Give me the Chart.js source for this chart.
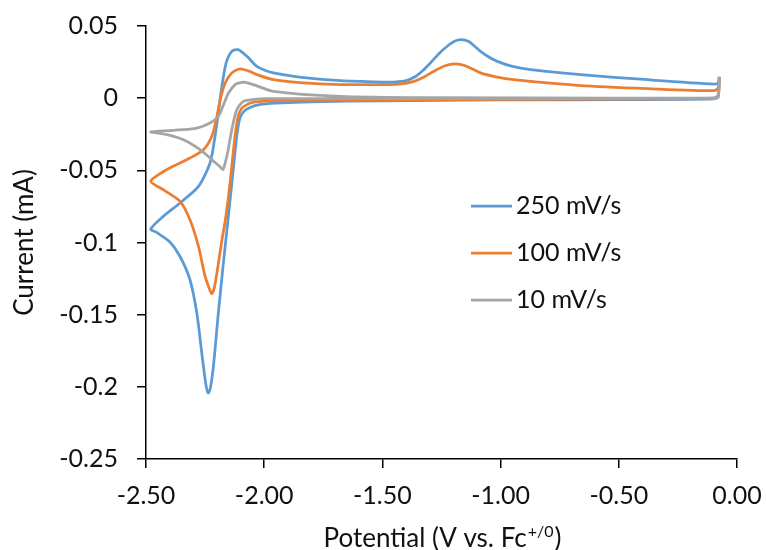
<!DOCTYPE html>
<html>
<head>
<meta charset="utf-8">
<script src="https://cdn.jsdelivr.net/npm/chart.js@4.4.1/dist/chart.umd.min.js"></script>
<style>
  body { margin: 0; background: #fff; }
  #wrap { width: 766px; height: 550px; }
</style>
</head>
<body>
<div id="wrap"><canvas id="cv" width="766" height="550"></canvas></div>
<script>
// potential (V vs Fc) and current (mA), in scan order: start -> -2.5 V -> back
const potential250 = [-0.075, -0.08, -0.1, -0.5, -1.0, -1.5, -1.8, -1.95, -2.02, -2.06, -2.085, -2.103, -2.116, -2.135, -2.155, -2.175, -2.194, -2.215, -2.228, -2.237, -2.247, -2.264, -2.285, -2.314, -2.356, -2.4, -2.455, -2.48,
    -2.427, -2.356, -2.278, -2.229, -2.208, -2.194, -2.179, -2.161, -2.137, -2.11, -2.073, -2.05, -2.031, -2.0, -1.961, -1.9, -1.819, -1.678, -1.508, -1.45, -1.4, -1.36, -1.33, -1.297, -1.26, -1.226, -1.195, -1.165, -1.135, -1.11, -1.085, -1.05, -1.014, -0.95, -0.873, -0.661, -0.378, -0.097, -0.08, -0.075];
const current250 = [0.0145, 0.001, -0.0005, -0.001, -0.0012, -0.0018, -0.0025, -0.0035, -0.0045, -0.0065, -0.009, -0.014, -0.0265, -0.056, -0.087, -0.118, -0.149, -0.186, -0.201, -0.2043, -0.198, -0.1766, -0.1489, -0.1258, -0.1097, -0.0995, -0.093, -0.0907,
    -0.0819, -0.0726, -0.0611, -0.0449, -0.0265, -0.0103, 0.0082, 0.0244, 0.0324, 0.0336, 0.029, 0.025, 0.022, 0.0195, 0.0175, 0.0158, 0.014, 0.0121, 0.0112, 0.0112, 0.0121, 0.015, 0.019, 0.0244, 0.031, 0.036, 0.0395, 0.0405, 0.0392, 0.036, 0.0324, 0.0285, 0.0255, 0.022, 0.0198, 0.0163, 0.0128, 0.0098, 0.0105, 0.0145];

const potential100 = [-0.075, -0.08, -0.1, -1.0, -1.9, -2.0, -2.05, -2.073, -2.095, -2.109, -2.12, -2.13, -2.14, -2.151, -2.165, -2.179, -2.2, -2.212, -2.222, -2.232, -2.25, -2.278, -2.314, -2.356, -2.427, -2.48,
    -2.412, -2.314, -2.257, -2.222, -2.203, -2.186, -2.165, -2.137, -2.11, -2.095, -2.06, -2.031, -1.961, -1.85, -1.678, -1.508, -1.43, -1.367, -1.32, -1.283, -1.235, -1.191, -1.15, -1.085, -1.02, -0.944, -0.661, -0.378, -0.097, -0.08, -0.075];
const current100 = [0.0145, 0.001, -0.0003, -0.0008, -0.0015, -0.002, -0.003, -0.0045, -0.007, -0.012, -0.022, -0.036, -0.052, -0.068, -0.085, -0.0985, -0.1211, -0.132, -0.1355, -0.132, -0.1235, -0.1027, -0.0842, -0.0715, -0.0634, -0.0576,
    -0.0495, -0.0415, -0.0357, -0.0265, -0.0149, -0.001, 0.0105, 0.0175, 0.02, 0.0202, 0.0185, 0.0163, 0.0128, 0.0108, 0.0094, 0.0094, 0.0097, 0.0116, 0.015, 0.0186, 0.0225, 0.0237, 0.0225, 0.0175, 0.0148, 0.0128, 0.0087, 0.0066, 0.0052, 0.007, 0.0145];

const potential10 = [-0.075, -0.08, -0.1, -1.0, -2.0, -2.031, -2.088, -2.116, -2.137, -2.155, -2.167, -2.175, -2.19, -2.222, -2.271, -2.342, -2.412, -2.48,
    -2.384, -2.285, -2.229, -2.194, -2.172, -2.151, -2.123, -2.1, -2.08, -2.046, -1.961, -1.678, -1.3, -0.5, -0.1, -0.08, -0.075];
const current10 = [0.015, 0.0005, -0.0002, -0.0003, -0.0004, -0.0006, -0.0022, -0.008, -0.0218, -0.038, -0.046, -0.0495, -0.047, -0.0426, -0.0357, -0.0288, -0.0253, -0.0234,
    -0.0223, -0.0207, -0.0172, -0.0126, -0.0045, 0.0036, 0.0094, 0.0108, 0.011, 0.0094, 0.0047, 0.0012, 0.0003, 0.0001, 0.0002, 0.002, 0.015];

const seriesNames = ['250 mV/s', '100 mV/s', '10 mV/s'];
const seriesColors = ['#5B9BD5', '#ED7D31', '#A5A5A5'];
const xTickValues = [-2.5, -2.0, -1.5, -1.0, -0.5, 0];
const yTickValues = [-0.25, -0.2, -0.15, -0.1, -0.05, 0, 0.05];

const textColor = '#111';
const fontName = 'Lato';

function points(xs, ys) {
    return xs.map((x, i) => ({x: x, y: ys[i]}));
}

function series(i, xs, ys) {
    return {
        label: seriesNames[i],
        data: points(xs, ys),
        borderColor: seriesColors[i],
        backgroundColor: seriesColors[i],
        borderWidth: 2.75,
        pointRadius: 0,
        showLine: true,
        tension: 0.25,
        order: 3 - i
    };
}

// axis titles and legend drawn by hand (superscript + legend inside the plot)
const overlay = {
    id: 'overlay',
    afterDraw(chart) {
        const ctx = chart.ctx;
        const area = chart.chartArea;
        ctx.save();
        ctx.fillStyle = textColor;
        ctx.font = '26px ' + fontName;
        ctx.textAlign = 'center';
        ctx.textBaseline = 'middle';
        ctx.translate(25, (area.top + area.bottom) / 2);
        ctx.rotate(-Math.PI / 2);
        ctx.fillText('Current (mA)', 0, 0);
        ctx.restore();

        ctx.save();
        ctx.fillStyle = textColor;
        ctx.textBaseline = 'alphabetic';
        ctx.textAlign = 'left';
        const main = 'Potential (V vs. Fc', sup = '+/0', tail = ')';
        ctx.font = '26px ' + fontName;
        const w1 = ctx.measureText(main).width, w3 = ctx.measureText(tail).width;
        ctx.font = '16px ' + fontName;
        const w2 = ctx.measureText(sup).width;
        let x = (area.left + area.right) / 2 - (w1 + w2 + w3) / 2;
        const base = 547;
        ctx.font = '26px ' + fontName;
        ctx.fillText(main, x, base);
        ctx.font = '16px ' + fontName;
        ctx.fillText(sup, x + w1 + 1, base - 10);
        ctx.font = '26px ' + fontName;
        ctx.fillText(tail, x + w1 + w2 + 2, base);
        ctx.restore();

        ctx.save();
        ctx.font = '25px ' + fontName;
        ctx.textBaseline = 'middle';
        ctx.textAlign = 'left';
        chart.data.datasets.forEach((ds, i) => {
            const y = 206 + i * 47;
            ctx.strokeStyle = ds.borderColor;
            ctx.lineWidth = 2.75;
            ctx.beginPath();
            ctx.moveTo(471, y);
            ctx.lineTo(512, y);
            ctx.stroke();
            ctx.fillStyle = textColor;
            ctx.fillText(ds.label, 516, y);
        });
        ctx.restore();
    }
};

new Chart(document.getElementById('cv').getContext('2d'), {
    type: 'scatter',
    data: {
        datasets: [
            series(0, potential250, current250),
            series(1, potential100, current100),
            series(2, potential10, current10),
        ]
    },
    options: {
        responsive: false,
        animation: false,
        layout: {padding: {left: 0, right: 29, top: 26, bottom: 0}},
        plugins: {legend: {display: false}, tooltip: {enabled: false}},
        scales: {
            x: {
                type: 'linear',
                min: -2.5,
                max: 0,
                afterFit: s => { s.height = 91; s.paddingLeft = 0; s.paddingRight = 0; },
                afterBuildTicks: s => { s.ticks = xTickValues.map(v => ({value: v})); },
                grid: {drawOnChartArea: false, tickLength: 9, color: '#000', lineWidth: 1.5},
                border: {color: '#000', width: 1.5},
                ticks: {color: textColor, font: {family: fontName, size: 25}, padding: 13, maxRotation: 0,
                    callback: v => v.toFixed(2)}
            },
            y: {
                type: 'linear',
                min: -0.25,
                max: 0.05,
                afterFit: s => { s.width = 146; s.paddingTop = 0; s.paddingBottom = 0; },
                afterBuildTicks: s => { s.ticks = yTickValues.map(v => ({value: v})); },
                grid: {drawOnChartArea: false, tickLength: 9, color: '#000', lineWidth: 1.5},
                border: {color: '#000', width: 1.5},
                ticks: {color: textColor, font: {family: fontName, size: 25}, padding: 19,
                    callback: v => String(Number(v.toFixed(2)))}
            }
        }
    },
    plugins: [overlay]
});
</script>
</body>
</html>
